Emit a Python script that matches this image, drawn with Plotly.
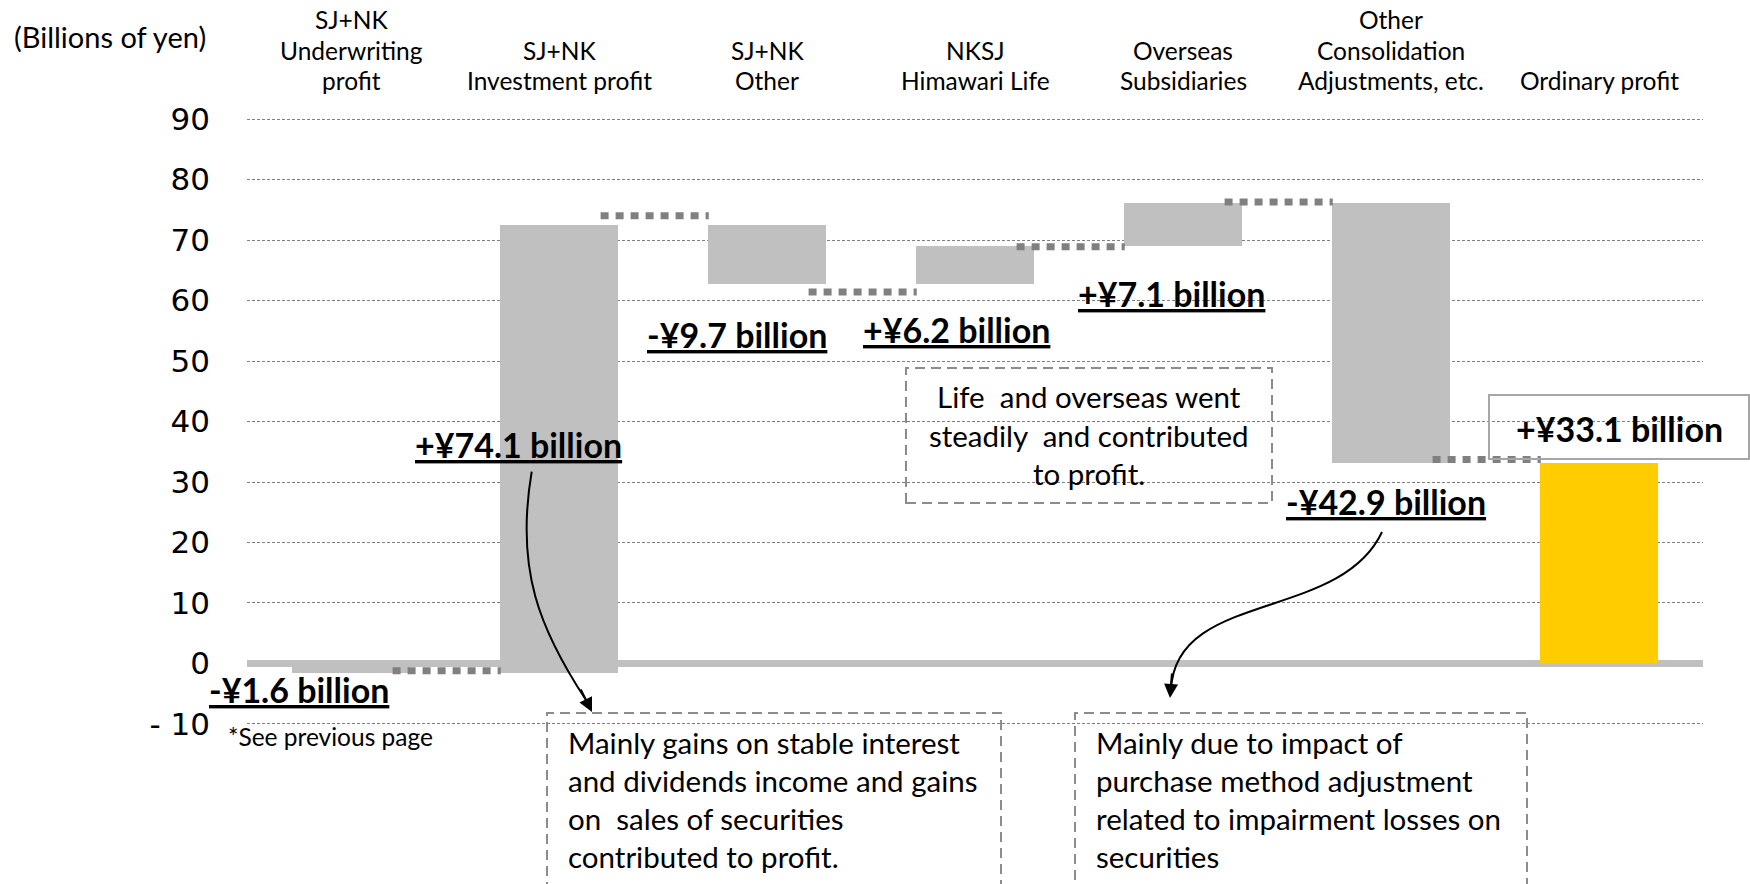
import plotly.graph_objects as go

# ---------------- data ----------------
categories = [
    "SJ+NK<br>Underwriting<br>profit",
    "SJ+NK<br>Investment profit",
    "SJ+NK<br>Other",
    "NKSJ<br>Himawari Life",
    "Overseas<br>Subsidiaries",
    "Other<br>Consolidation<br>Adjustments, etc.",
    "Ordinary profit",
]
changes = [-1.6, 74.1, -9.7, 6.2, 7.1, -42.9]
total_value = 33.1
change_labels = ["-¥1.6 billion", "+¥74.1 billion", "-¥9.7 billion",
                 "+¥6.2 billion", "+¥7.1 billion", "-¥42.9 billion"]
total_label = "+¥33.1 billion"
connector_levels = [-1.2, 74.0, 61.4, 68.9, 76.3, 33.7]
y_tick_vals = [-10, 0, 10, 20, 30, 40, 50, 60, 70, 80, 90]
y_tick_text = ["- 10", "0", "10", "20", "30", "40", "50", "60", "70", "80", "90"]
note_life = ["Life  and overseas went", "steadily  and contributed", "to profit."]
note_invest = ["Mainly gains on stable interest", "and dividends income and gains",
               "on  sales of securities", "contributed to profit."]
note_consol = ["Mainly due to impact of", "purchase method adjustment",
               "related to impairment losses on", "securities"]

# ---------------- geometry helpers ----------------
W_FIG, H_FIG = 1750, 884
ML, MR, MT, MB = 247, 47, 116, 157
PW = W_FIG - ML - MR
PH = H_FIG - MT - MB


def px(x):
    return (x - ML) / PW


def py(y):
    return (H_FIG - MB - y) / PH


GRAY = "#C0C0C0"
YELLOW = "#FFCC00"
CONN = "#808080"
FONT = "Lato"

# waterfall bases
bases, heights = [], []
run = 0.0
for c in changes:
    bases.append(run)
    heights.append(c)
    run += c
bases.append(0)
heights.append(total_value)
xs = list(range(len(categories)))
colors = [GRAY] * len(changes) + [YELLOW]

fig = go.Figure()
fig.add_trace(go.Bar(x=xs, y=heights, base=bases, width=0.563,
                     marker=dict(color=colors, line=dict(width=0)),
                     hoverinfo="skip", showlegend=False))

# connectors
cx, cy = [], []
for i, lv in enumerate(connector_levels):
    cx += [i + 0.2, i + 0.72, None]
    cy += [lv, lv, None]
fig.add_trace(go.Scatter(x=cx, y=cy, mode="lines",
                         line=dict(color=CONN, width=7, dash="8px,7px"),
                         hoverinfo="skip", showlegend=False))

ann = []
shapes = []

# category headers (one annotation per line, bottom line aligned)
line_centers = [80.5, 50, 19.5]
for i, cat in enumerate(categories):
    lines = cat.split("<br>")
    for k, line in enumerate(reversed(lines)):
        ann.append(dict(x=i, xref="x", y=py(line_centers[k]), yref="paper",
                        text=line, showarrow=False, xanchor="center", yanchor="middle",
                        font=dict(family=FONT, size=24.5, color="black")))

ann.append(dict(x=px(110), y=py(37), xref="paper", yref="paper",
                text="(Billions of yen)", showarrow=False, xanchor="center",
                yanchor="middle", font=dict(family=FONT, size=29, color="black")))
ann.append(dict(x=px(226), y=py(737), xref="paper", yref="paper",
                text="*See previous page", showarrow=False, xanchor="left",
                yanchor="middle", font=dict(family=FONT, size=24.5, color="black")))

# change labels
label_pos = [(299, 689), (518, 444), (737, 334), (956, 329), (1171, 293), (1386, 502)]
for (lx, ly), t in zip(label_pos, change_labels):
    ann.append(dict(x=px(lx), y=py(ly), xref="paper", yref="paper",
                    text="<u><b>" + t + "</b></u>", showarrow=False,
                    xanchor="center", yanchor="middle",
                    font=dict(family=FONT, size=34, color="black")))
ann.append(dict(x=px(1619), y=py(428), xref="paper", yref="paper",
                text="<b>" + total_label + "</b>", showarrow=False,
                xanchor="center", yanchor="middle",
                font=dict(family=FONT, size=34, color="black")))
shapes.append(dict(type="rect", xref="paper", yref="paper",
                   x0=px(1489), x1=px(1749), y0=py(459), y1=py(395),
                   line=dict(color="#A6A6A6", width=2), fillcolor="rgba(0,0,0,0)"))

# dashed note boxes
box_line = dict(color="#8C8C8C", width=2, dash="10px,6px")
shapes.append(dict(type="rect", xref="paper", yref="paper",
                   x0=px(906), x1=px(1272), y0=py(503), y1=py(368), line=box_line))
shapes.append(dict(type="rect", xref="paper", yref="paper",
                   x0=px(547), x1=px(1001), y0=py(900), y1=py(713), line=box_line))
shapes.append(dict(type="rect", xref="paper", yref="paper",
                   x0=px(1075), x1=px(1527), y0=py(900), y1=py(713), line=box_line))

for k, line in enumerate(note_life):
    ann.append(dict(x=px(1089), y=py(397 + k * 38.5), xref="paper", yref="paper",
                    text=line, showarrow=False, xanchor="center", yanchor="middle",
                    font=dict(family=FONT, size=29.5, color="black")))
for k, line in enumerate(note_invest):
    ann.append(dict(x=px(566), y=py(742 + k * 38.3), xref="paper", yref="paper",
                    text=line, showarrow=False, xanchor="left", yanchor="middle",
                    font=dict(family=FONT, size=29.5, color="black")))
for k, line in enumerate(note_consol):
    ann.append(dict(x=px(1094), y=py(742 + k * 38.3), xref="paper", yref="paper",
                    text=line, showarrow=False, xanchor="left", yanchor="middle",
                    font=dict(family=FONT, size=29.5, color="black")))


# curved arrows
def path(pts):
    (x0, y0), (x1, y1), (x2, y2), (x3, y3) = pts
    return (f"M {px(x0)},{py(y0)} C {px(x1)},{py(y1)} {px(x2)},{py(y2)} "
            f"{px(x3)},{py(y3)}")


shapes.append(dict(type="path", xref="paper", yref="paper",
                   path=path([(531.7, 471.7), (515, 570), (540, 630), (586, 700)]),
                   line=dict(color="black", width=2)))
ann.append(dict(x=px(592), y=py(712), xref="paper", yref="paper", text="",
                showarrow=True, ax=-12, ay=-24, arrowhead=2, arrowsize=1.4,
                arrowwidth=2, arrowcolor="black"))
shapes.append(dict(type="path", xref="paper", yref="paper",
                   path=path([(1382, 532), (1340, 622), (1175, 590), (1171, 690)]),
                   line=dict(color="black", width=2)))
ann.append(dict(x=px(1170), y=py(698), xref="paper", yref="paper", text="",
                showarrow=True, ax=2, ay=-26, arrowhead=2, arrowsize=1.4,
                arrowwidth=2, arrowcolor="black"))

fig.update_layout(
    width=W_FIG, height=H_FIG,
    margin=dict(l=ML, r=MR, t=MT, b=MB, pad=0),
    paper_bgcolor="white", plot_bgcolor="white",
    bargap=0, showlegend=False,
    annotations=ann, shapes=shapes,
    xaxis=dict(range=[-0.5, 6.5], visible=False, fixedrange=True),
    yaxis=dict(range=[-10.5, 90.5], tickvals=y_tick_vals, ticktext=y_tick_text,
               showgrid=True, gridcolor="#808080", gridwidth=1, griddash="3px,2px",
               zeroline=True, zerolinecolor=GRAY, zerolinewidth=7,
               showline=False, ticks="", ticklabelstandoff=36,
               tickfont=dict(family="DejaVu Sans", size=31, color="black"),
               fixedrange=True),
)

fig.write_html("out.html")
